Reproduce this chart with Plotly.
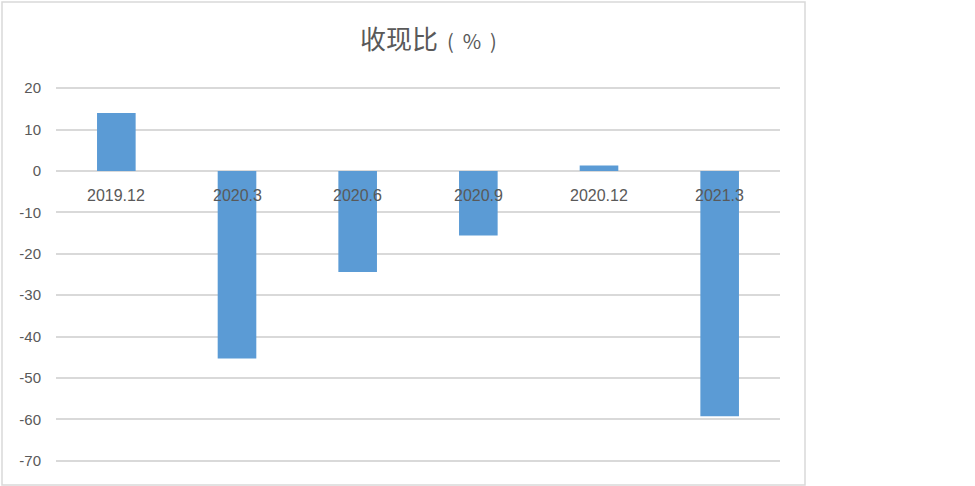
import plotly.graph_objects as go

# data
periods = ["2019.12", "2020.3", "2020.6", "2020.9", "2020.12", "2021.3"]
cash_ratio = [14.0, -45.3, -24.4, -15.6, 1.3, -59.2]
y_ticks = [20, 10, 0, -10, -20, -30, -40, -50, -60, -70]
y_tick_text = [str(v) for v in y_ticks]  # plain hyphen minus, like the original

BAR = "#5B9BD5"
GRID = "#D9D9D9"
TEXT = "#595959"

# plot area in pixels: x 56..780, y 84..465 (range padded so edge grid lines are drawn)
L, R, T, B = 56, 780, 84, 465
W, H = 975, 486
Y0, Y1 = -71, 21

def px_x(p):
    return (p - L) / (R - L)

def px_y(p):
    return (B - p) / (B - T)

fig = go.Figure()
fig.add_trace(go.Bar(
    x=periods,
    y=cash_ratio,
    marker=dict(color=BAR, line=dict(width=0)),
    hovertemplate="%{x}: %{y}<extra></extra>",
))

# category labels sit at the zero line, drawn over the bars
for i, p in enumerate(periods):
    fig.add_annotation(
        x=i, y=0, xref="x", yref="y",
        text=p, showarrow=False,
        yanchor="top", yshift=-14,
        font=dict(family="Liberation Sans, Arial", size=16, color=TEXT),
    )

# title
fig.add_annotation(
    x=px_x(428), y=px_y(38), xref="paper", yref="paper",
    text="收现比<span style='font-size:20px'>  (  %  )</span>",
    showarrow=False, xanchor="center", yanchor="middle",
    font=dict(family="Noto Sans CJK SC", size=26, color=TEXT),
)

# chart area border
fig.add_shape(
    type="rect", xref="paper", yref="paper",
    x0=px_x(2), x1=px_x(805), y0=px_y(485), y1=px_y(2),
    line=dict(color=GRID, width=1.5), fillcolor="rgba(0,0,0,0)",
    layer="below",
)

fig.update_layout(
    width=W, height=H,
    margin=dict(l=L, r=W - R, t=T, b=H - B),
    plot_bgcolor="white", paper_bgcolor="white",
    showlegend=False,
    bargap=0.68,
    xaxis=dict(type="category", range=[-0.5, len(periods) - 0.5],
               showticklabels=False, showgrid=False,
               zeroline=False, showline=False, ticks=""),
    yaxis=dict(range=[Y0, Y1], tickvals=y_ticks, ticktext=y_tick_text,
               showgrid=True, gridcolor=GRID, gridwidth=1.5, zeroline=True,
               zerolinecolor=GRID, zerolinewidth=1.5, showline=False,
               ticks="", ticklabelstandoff=14,
               tickfont=dict(family="Liberation Sans, Arial", size=15, color=TEXT)),
)

fig.write_html("out.html", config={"displayModeBar": False},
               post_script="document.body.style.margin='0';")
